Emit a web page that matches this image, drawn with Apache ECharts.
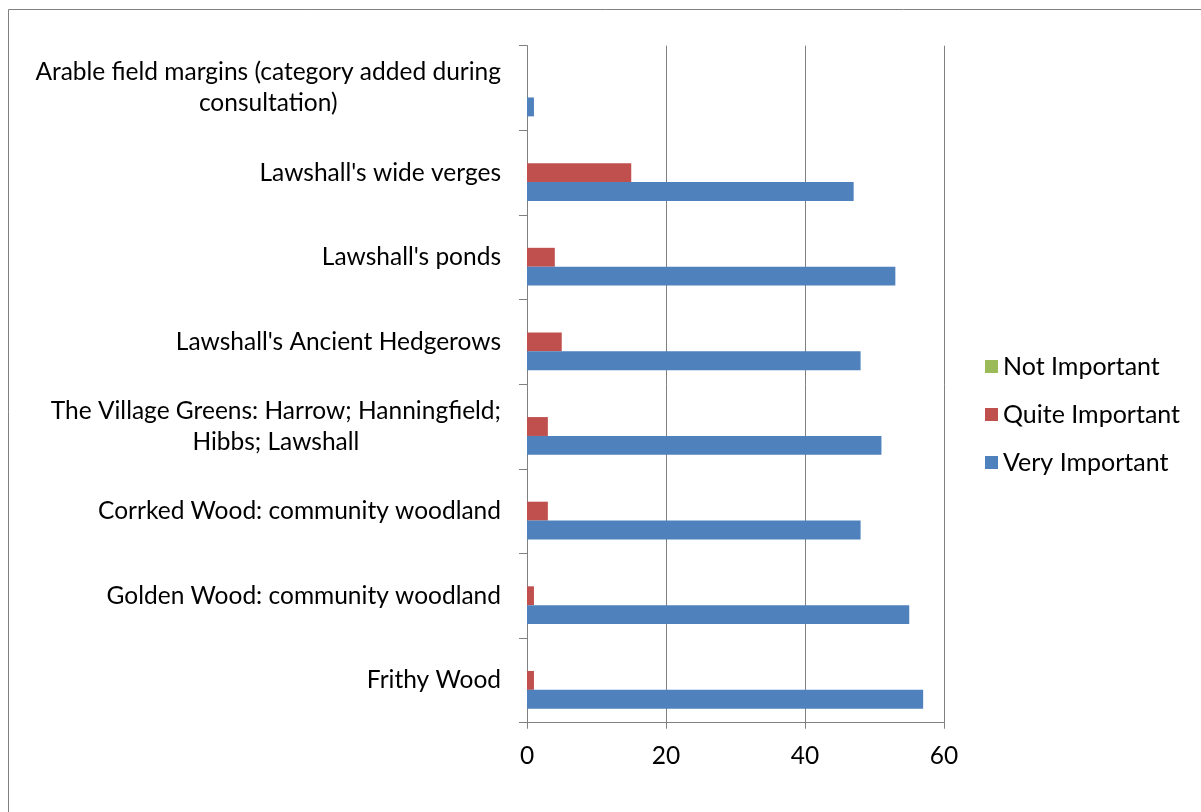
<!DOCTYPE html>
<html>
<head>
<meta charset="utf-8">
<script src="https://cdn.jsdelivr.net/npm/echarts@6/dist/echarts.min.js"></script>
<style>
  html, body { margin: 0; padding: 0; background: #ffffff; }
  #chart { width: 1201px; height: 812px; }
</style>
</head>
<body>
<div id="chart"></div>
<script>
// Categories, listed bottom to top along the vertical axis
const categories = [
  "Frithy Wood",
  "Golden Wood: community woodland",
  "Corrked Wood: community woodland",
  "The Village Greens: Harrow; Hanningfield; Hibbs; Lawshall",
  "Lawshall's Ancient Hedgerows",
  "Lawshall's ponds",
  "Lawshall's wide verges",
  "Arable field margins (category added during consultation)"
];

// Number of responses per rating
const notImportant   = [0, 0, 0, 0, 0, 0, 0, 0];
const quiteImportant = [1, 1, 3, 3, 5, 4, 15, 0];
const veryImportant  = [57, 55, 48, 51, 48, 53, 47, 1];

const seriesNames = ["Not Important", "Quite Important", "Very Important"];
const valueTicks = [0, 20, 40, 60];

const FONT = "Lato";
const FONT_SIZE = 24.5;
const GREY = "#808080";
const LABEL_MAX_WIDTH = 490;

// Word-wrap a category name to the label width; each line is centred in its block
const measureCtx = document.createElement("canvas").getContext("2d");
measureCtx.font = FONT_SIZE + "px " + FONT;
function wrapLabel(text) {
  const words = text.split(" ");
  const lines = [];
  let line = "";
  for (const w of words) {
    const probe = line ? line + " " + w : w;
    if (line && measureCtx.measureText(probe).width > LABEL_MAX_WIDTH) {
      lines.push(line);
      line = w;
    } else {
      line = probe;
    }
  }
  if (line) lines.push(line);
  return lines.map(l => "{c|" + l + "}").join("\n");
}

const chart = echarts.init(document.getElementById("chart"), null, { renderer: "canvas" });

chart.setOption({
  animation: false,
  backgroundColor: "#ffffff",
  textStyle: { fontFamily: FONT },
  graphic: [{
    type: "rect",
    shape: { x: 8.5, y: 9.5, width: 1200, height: 810 },
    style: { fill: "none", stroke: GREY, lineWidth: 1 },
    silent: true
  }],
  grid: { left: 527, top: 45.7, right: 257, bottom: 89.3, containLabel: false },
  legend: {
    orient: "vertical",
    left: 985,
    top: 354,
    padding: 0,
    itemWidth: 13,
    itemHeight: 13,
    itemGap: 23,
    icon: "rect",
    data: seriesNames,
    textStyle: { fontFamily: FONT, fontSize: 25, color: "#000000", padding: [0, 0, 0, 0] }
  },
  xAxis: {
    type: "value",
    min: valueTicks[0],
    max: valueTicks[valueTicks.length - 1],
    interval: valueTicks[1] - valueTicks[0],
    axisLine: { show: true, lineStyle: { color: GREY, width: 1 } },
    axisTick: { show: true, length: 6, lineStyle: { color: GREY } },
    splitLine: { show: true, lineStyle: { color: GREY, width: 1 } },
    axisLabel: { margin: 21, fontFamily: FONT, fontSize: FONT_SIZE, color: "#000000" }
  },
  yAxis: {
    type: "category",
    data: categories,
    axisLine: { show: true, lineStyle: { color: GREY, width: 1 } },
    axisTick: { show: true, length: 8, lineStyle: { color: GREY } },
    splitLine: { show: false },
    axisLabel: {
      margin: 26,
      color: "#000000",
      align: "right",
      formatter: wrapLabel,
      rich: {
        c: {
          align: "center",
          fontFamily: FONT,
          fontSize: FONT_SIZE,
          lineHeight: 31,
          color: "#000000"
        }
      }
    }
  },
  series: [
    {
      name: seriesNames[0], type: "bar", data: notImportant,
      itemStyle: { color: "#9BBB59" },
      barGap: "0%", barCategoryGap: "33%"
    },
    {
      name: seriesNames[1], type: "bar", data: quiteImportant,
      itemStyle: { color: "#C0504D" },
      barGap: "0%", barCategoryGap: "33%"
    },
    {
      name: seriesNames[2], type: "bar", data: veryImportant,
      itemStyle: { color: "#4F81BD" },
      barGap: "0%", barCategoryGap: "33%"
    }
  ]
});
</script>
</body>
</html>
